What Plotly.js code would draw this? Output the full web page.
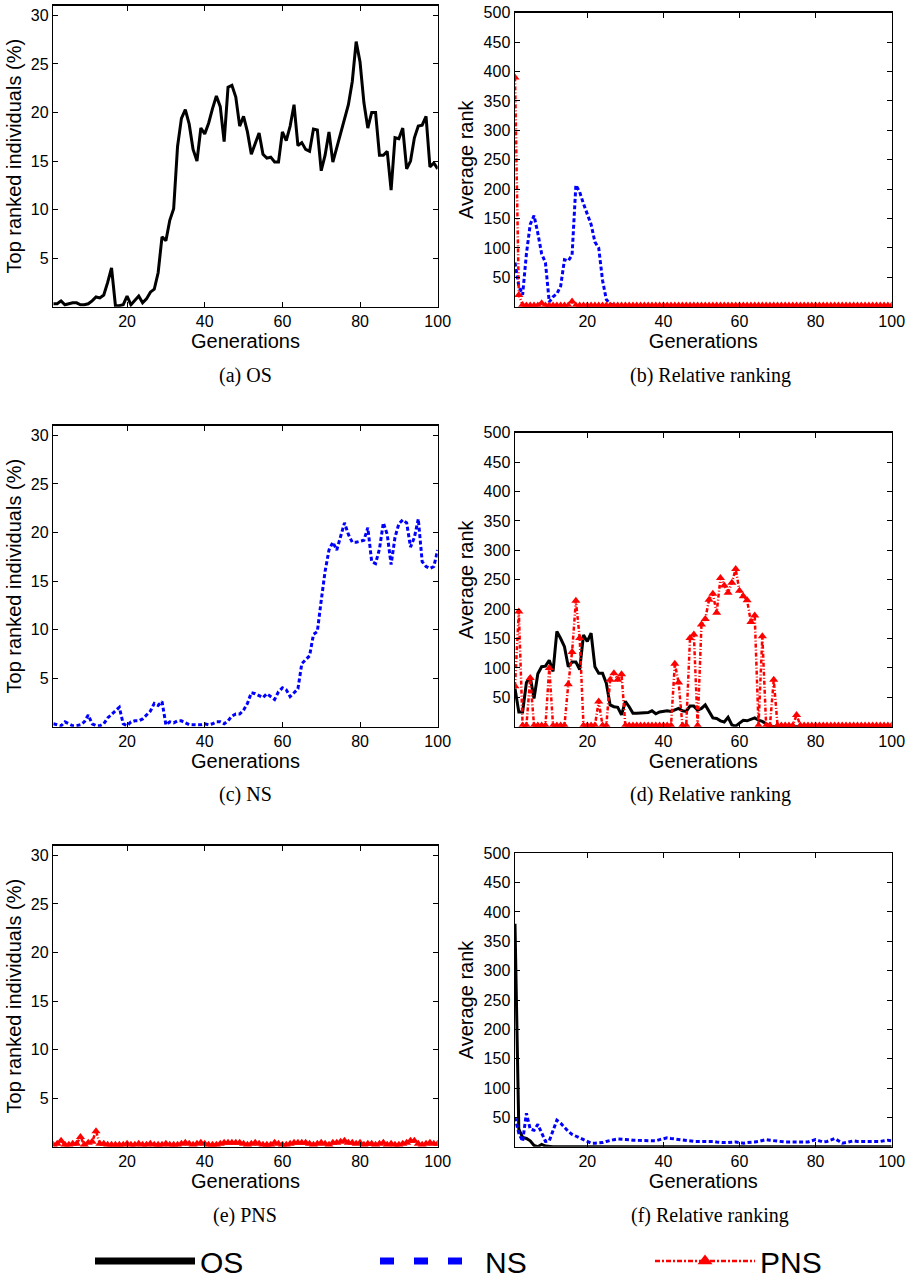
<!DOCTYPE html>
<html>
<head>
<meta charset="utf-8">
<script src="https://cdn.plot.ly/plotly-3.0.1.min.js"></script>
<style>
  html, body { margin: 0; padding: 0; background: #fff; }
  #chart { width: 914px; height: 1287px; }
</style>
</head>
<body>
<div id="chart"></div>
<script>
// Generation index (x axis)
const gens = Array.from({length: 100}, (_, i) => i + 1);

// Tick labels
const xTicks = [20, 40, 60, 80, 100];
const pctTicks = [5, 10, 15, 20, 25, 30];
const rankTicks = [50, 100, 150, 200, 250, 300, 350, 400, 450, 500];

// Series names
const seriesNames = ["OS", "NS", "PNS"];
const captions = ["(a) OS", "(b) Relative ranking", "(c) NS", "(d) Relative ranking", "(e) PNS", "(f) Relative ranking"];

// (a) OS run: top ranked individuals (%) - OS
const osTopA = [0.3,0.3,0.6,0.2,0.3,0.4,0.4,0.2,0.2,0.3,
  0.6,1.0,0.9,1.2,2.5,4.0,0.1,0.1,0.2,1.1,
  0.2,0.6,1.1,0.4,0.8,1.5,1.8,3.5,7.2,6.8,
  8.9,10.1,16.5,19.4,20.3,18.8,16.2,15.0,18.4,17.8,
  18.9,20.4,21.7,20.6,17.0,22.6,22.8,21.6,18.6,19.6,
  18.0,15.7,16.7,17.9,15.7,15.3,15.4,14.9,14.9,18.0,
  17.1,18.6,20.8,16.6,16.9,16.2,16.0,18.3,18.2,14.0,
  15.6,18.0,14.9,16.4,18.0,19.2,20.8,23.2,27.3,25.2,
  21.0,18.4,20.0,20.0,15.6,15.6,16.0,12.0,17.4,17.3,
  18.4,14.2,15.0,17.4,18.6,18.7,19.6,14.4,14.8,14.2];

// (b) OS run: average rank of NS and PNS
const nsRankB = [75,35,20,90,140,155,125,90,75,8,
  17,22,35,80,78,88,207,195,175,158,
  140,110,100,45,12,5,2,1,1,1,
  1,1,1,1,1,1,1,1,1,1,
  1,1,1,1,1,1,1,1,1,1,
  1,1,1,1,1,1,1,1,1,1,
  1,1,1,1,1,1,1,1,1,1,
  1,1,1,1,1,1,1,1,1,1,
  1,1,1,1,1,1,1,1,1,1,
  1,1,1,1,1,1,1,1,1,1];
const pnsRankB = [390,20,3,2,2,2,2,6,2,2,
  2,2,2,2,2,9,2,2,2,2,
  2,2,2,2,2,2,2,2,2,2,
  2,2,2,2,2,2,2,2,2,2,
  2,2,2,2,2,2,2,2,2,2,
  2,2,2,2,2,2,2,2,2,2,
  2,2,2,2,2,2,2,2,2,2,
  2,2,2,2,2,2,2,2,2,2,
  2,2,2,2,2,2,2,2,2,2,
  2,2,2,2,2,2,2,2,2,2];

// (c) NS run: top ranked individuals (%) - NS
const nsTopC = [0.3,0.2,0.1,0.5,0.3,0.1,0.1,0.2,0.5,1.2,
  0.3,0.1,0.1,0.3,0.9,1.3,1.6,2.0,0.3,0.1,
  0.5,0.6,0.6,0.8,1.2,1.6,2.4,2.2,2.6,0.2,
  0.5,0.4,0.6,0.6,0.4,0.2,0.2,0.2,0.2,0.3,
  0.2,0.3,0.5,0.5,0.3,0.6,1.1,1.3,1.3,1.7,
  2.4,3.5,3.4,3.2,3.0,3.4,3.1,2.8,3.6,4.0,
  3.8,3.1,3.5,3.9,6.5,6.9,7.3,9.5,9.8,13.0,
  16.0,18.2,19.0,18.2,19.5,21.0,19.8,19.0,19.0,19.1,
  19.2,20.5,17.0,16.8,18.3,21.0,19.8,16.7,19.5,20.9,
  21.3,21.0,18.5,19.5,21.4,17.0,16.5,16.3,16.5,18.2];

// (d) NS run: average rank of OS and PNS
const osRankD = [65,25,25,75,85,48,90,102,103,113,
  94,162,150,136,102,110,110,97,156,145,
  159,102,91,91,74,37,34,33,20,43,
  34,23,23,23,23,24,27,22,25,26,
  27,26,28,31,27,26,35,35,28,31,
  37,26,15,14,10,8,16,3,1,6,
  11,10,13,15,11,9,5,1,0,0,
  0,0,0,0,0,0,0,0,0,0,
  0,0,0,0,0,0,0,0,0,0,
  0,0,0,0,0,0,0,0,0,0];
const pnsRankD = [69,196,2,2,83,2,2,2,2,100,
  2,2,2,2,72,127,214,151,2,2,
  2,2,43,2,2,80,91,80,89,2,
  2,2,2,2,2,2,2,2,2,2,
  2,2,107,75,2,2,151,157,2,174,
  183,216,226,194,253,240,228,245,268,231,
  222,215,178,189,2,154,2,2,80,2,
  2,2,2,2,20,2,2,2,2,2,
  2,2,2,2,2,2,2,2,2,2,
  2,2,2,2,2,2,2,2,2,2];

// (e) PNS run: top ranked individuals (%) - PNS
const pnsTopE = [0.2,0.3,0.6,0.2,0.2,0.3,0.3,1.0,0.2,0.4,
  0.5,1.6,0.3,0.3,0.2,0.2,0.2,0.2,0.2,0.3,
  0.2,0.2,0.3,0.2,0.2,0.3,0.2,0.2,0.2,0.3,
  0.2,0.2,0.2,0.3,0.4,0.3,0.2,0.3,0.4,0.3,
  0.2,0.2,0.2,0.3,0.4,0.4,0.4,0.4,0.4,0.3,
  0.2,0.3,0.4,0.3,0.2,0.2,0.2,0.4,0.3,0.2,
  0.2,0.3,0.4,0.4,0.4,0.4,0.3,0.2,0.3,0.4,
  0.3,0.2,0.4,0.4,0.5,0.6,0.4,0.4,0.3,0.4,
  0.2,0.3,0.3,0.2,0.3,0.4,0.2,0.3,0.2,0.2,
  0.3,0.4,0.6,0.6,0.3,0.2,0.3,0.4,0.3,0.3];

// (f) PNS run: average rank of OS and NS
const osRankF = [380,30,16,14,10,2,0,4,1,0,
  0,0,0,0,0,0,0,0,0,0,
  0,0,0,0,0,0,0,0,0,0,
  0,0,0,0,0,0,0,0,0,0,
  0,0,0,0,0,0,0,0,0,0,
  0,0,0,0,0,0,0,0,0,0,
  0,0,0,0,0,0,0,0,0,0,
  0,0,0,0,0,0,0,0,0,0,
  0,0,0,0,0,0,0,0,0,0,
  0,0,0,0,0,0,0,0,0,0];
const nsRankF = [50,23,9,57,30,28,38,24,9,10,
  26,45,40,32,26,21,18,14,12,8,
  6,6,6,7,9,11,12,13,13,12,
  12,11,11,11,10,10,10,10,12,14,
  15,14,13,12,11,10,10,9,9,9,
  10,10,9,8,7,7,7,8,8,7,
  6,7,7,8,9,11,12,11,10,10,
  9,8,8,8,8,7,7,8,10,12,
  10,8,9,11,14,10,6,7,9,10,
  9,9,9,9,9,8,9,10,11,10];

const BLACK = '#000000', BLUE = '#0000ff', RED = '#ff0000';
const sansFont = '"Liberation Sans", Arial, Helvetica, sans-serif';
const serifFont = '"Liberation Serif", "Times New Roman", serif';

function osTrace(y, ax) {
  return {x: gens, y: y, xaxis: 'x' + ax, yaxis: 'y' + ax, mode: 'lines',
    line: {color: BLACK, width: 3}, showlegend: false, name: seriesNames[0]};
}
function nsTrace(y, ax) {
  return {x: gens, y: y, xaxis: 'x' + ax, yaxis: 'y' + ax, mode: 'lines',
    line: {color: BLUE, width: 3, dash: '4px,2.5px'}, showlegend: false, name: seriesNames[1]};
}
function pnsTrace(y, ax) {
  return {x: gens, y: y, xaxis: 'x' + ax, yaxis: 'y' + ax, mode: 'lines+markers',
    line: {color: RED, width: 2.5, dash: '4px,2px,1px,2px'},
    marker: {symbol: 'triangle-up', size: 8, color: RED, line: {width: 0}},
    showlegend: false, name: seriesNames[2]};
}

const data = [
  osTrace(osTopA, ''),
  nsTrace(nsRankB, '2'), pnsTrace(pnsRankB, '2'),
  nsTrace(nsTopC, '3'),
  osTrace(osRankD, '4'), pnsTrace(pnsRankD, '4'),
  pnsTrace(pnsTopE, '5'),
  osTrace(osRankF, '6'), nsTrace(nsRankF, '6'),
  // legend entries (no data, legend only)
  {x: [null], y: [null], xaxis: 'x', yaxis: 'y', mode: 'lines', name: seriesNames[0],
   line: {color: BLACK, width: 7}, showlegend: true, legend: 'legend'},
  {x: [null], y: [null], xaxis: 'x', yaxis: 'y', mode: 'lines', name: seriesNames[1],
   line: {color: BLUE, width: 7, dash: '14px,20px'}, showlegend: true, legend: 'legend2'},
  {x: [null], y: [null], xaxis: 'x', yaxis: 'y', mode: 'lines+markers', name: seriesNames[2],
   line: {color: RED, width: 2.5, dash: '5px,2px,2px,2px'},
   marker: {symbol: 'triangle-up', size: 13, color: RED, line: {width: 0}}, showlegend: true, legend: 'legend3'}
];

const H = 1287, W = 914;
const py = v => 1 - v / H;
const px = v => v / W;

const leftX = [px(53.3), px(437.7)];
const rightX = [px(515), px(891.7)];
const rowsLeft = [[py(306.7), py(5.7)], [py(726.7), py(425.7)], [py(1146.7), py(845.7)]];
const rowsRight = [[py(306.7), py(12.7)], [py(726.7), py(432.7)], [py(1146.7), py(853.3)]];

function xAxis(domain, anchor) {
  return {domain: domain, anchor: anchor, range: [1, 100], tickvals: xTicks, ticktext: xTicks.map(String),
    ticks: 'inside', ticklen: 5, tickwidth: 1, tickcolor: BLACK, mirror: 'allticks', showline: true,
    linecolor: BLACK, linewidth: 1.5, showgrid: false, zeroline: false,
    tickfont: {family: sansFont, size: 16, color: BLACK},
    title: {text: 'Generations', font: {family: sansFont, size: 20, color: BLACK}, standoff: 0}};
}
function yAxis(domain, anchor, pct) {
  return {domain: domain, anchor: anchor, range: pct ? [0, 31] : [0, 500],
    tickvals: pct ? pctTicks : rankTicks, ticktext: (pct ? pctTicks : rankTicks).map(String),
    ticks: 'inside', ticklen: 5, tickwidth: 1, tickcolor: BLACK, mirror: 'allticks', showline: true,
    linecolor: BLACK, linewidth: 1.5, showgrid: false, zeroline: false,
    tickfont: {family: sansFont, size: 16, color: BLACK},
    title: {text: pct ? 'Top ranked individuals (%)' : 'Average rank',
      font: {family: sansFont, size: 20, color: BLACK}, standoff: 4}};
}

const capX = [px(245), px(710)];
const capY = [py(375), py(795), py(1215)];
const annotations = captions.map((t, i) => ({
  text: t, xref: 'paper', yref: 'paper', x: capX[i % 2], y: capY[Math.floor(i / 2)],
  xanchor: 'center', yanchor: 'middle', showarrow: false,
  font: {family: serifFont, size: 20, color: BLACK}
}));

function legendAt(xPix) {
  return {orientation: 'h', x: px(xPix), y: 0, xanchor: 'left', yanchor: 'bottom',
    font: {family: sansFont, size: 30, color: BLACK}, itemwidth: 100,
    bgcolor: 'rgba(0,0,0,0)', borderwidth: 0};
}

const layout = {
  width: W, height: H, margin: {l: 0, r: 0, t: 0, b: 0, autoexpand: false},
  paper_bgcolor: '#fff', plot_bgcolor: '#fff',
  showlegend: true,
  legend: legendAt(90), legend2: legendAt(375), legend3: legendAt(650),
  xaxis: xAxis(leftX, 'y'), yaxis: yAxis(rowsLeft[0], 'x', true),
  xaxis2: xAxis(rightX, 'y2'), yaxis2: yAxis(rowsRight[0], 'x2', false),
  xaxis3: xAxis(leftX, 'y3'), yaxis3: yAxis(rowsLeft[1], 'x3', true),
  xaxis4: xAxis(rightX, 'y4'), yaxis4: yAxis(rowsRight[1], 'x4', false),
  xaxis5: xAxis(leftX, 'y5'), yaxis5: yAxis(rowsLeft[2], 'x5', true),
  xaxis6: xAxis(rightX, 'y6'), yaxis6: yAxis(rowsRight[2], 'x6', false),
  annotations: annotations
};

Plotly.newPlot('chart', data, layout, {displayModeBar: false, staticPlot: true});
</script>
</body>
</html>
